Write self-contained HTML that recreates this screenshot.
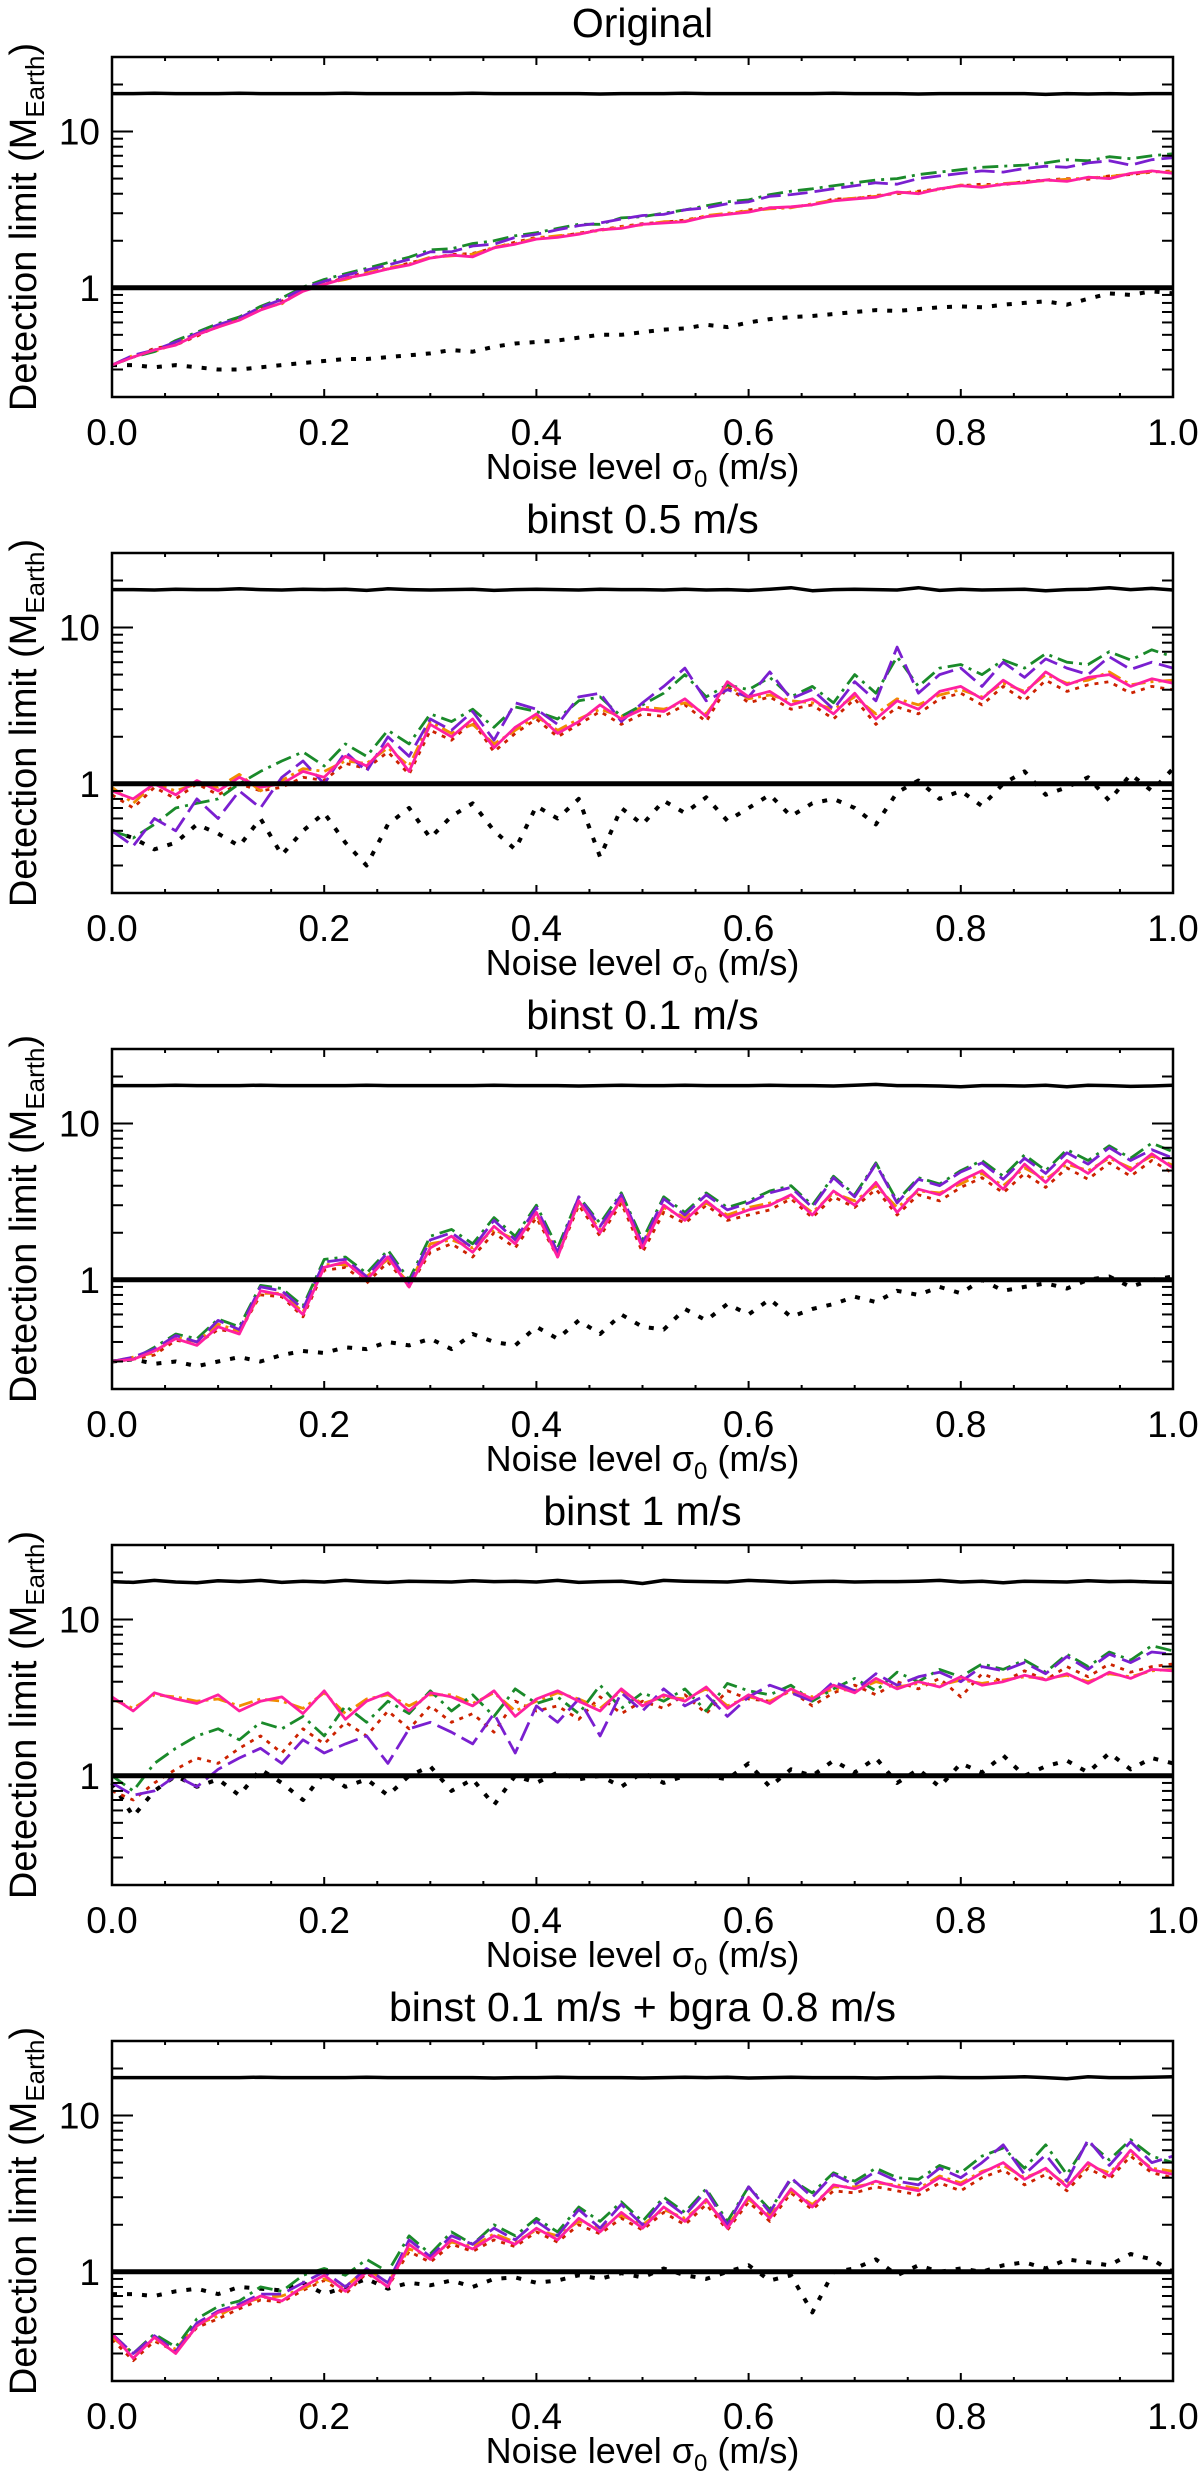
<!DOCTYPE html>
<html><head><meta charset="utf-8"><style>
html,body{margin:0;padding:0;background:#fff;}
svg{display:block;}
text{font-family:"Liberation Sans",Arial,sans-serif;fill:#000;}
</style></head><body>
<svg id="fig" width="1200" height="2481" viewBox="0 0 1200 2481" xmlns="http://www.w3.org/2000/svg"></svg>
<script>
const noise = [0,0.02,0.04,0.06,0.08,0.1,0.12,0.14,0.16,0.18,0.2,0.22,0.24,0.26,0.28,0.3,0.32,0.34,0.36,0.38,0.4,0.42,0.44,0.46,0.48,0.5,0.52,0.54,0.56,0.58,0.6,0.62,0.64,0.66,0.68,0.7,0.72,0.74,0.76,0.78,0.8,0.82,0.84,0.86,0.88,0.9,0.92,0.94,0.96,0.98,1.0];
const xTicks = [0,0.2,0.4,0.6,0.8,1.0];
const xTickLabels = ["0.0","0.2","0.4","0.6","0.8","1.0"];
const yTicks = [1,10];
const yTickLabels = ["1","10"];
const titles = ["Original","binst 0.5 m/s","binst 0.1 m/s","binst 1 m/s","binst 0.1 m/s + bgra 0.8 m/s"];
const earthLine = [1,1,1,1,1];

// Panel 1
const p1Top = [17.5,17.5,17.6,17.5,17.5,17.5,17.6,17.5,17.5,17.5,17.5,17.6,17.5,17.5,17.5,17.5,17.5,17.6,17.5,17.5,17.5,17.5,17.5,17.4,17.5,17.5,17.5,17.6,17.5,17.5,17.5,17.5,17.5,17.5,17.6,17.5,17.5,17.5,17.4,17.5,17.5,17.5,17.5,17.5,17.3,17.5,17.4,17.5,17.4,17.5,17.5];
const p1Magenta = [0.32,0.36,0.40,0.43,0.50,0.56,0.62,0.72,0.80,0.95,1.05,1.15,1.22,1.32,1.40,1.55,1.62,1.58,1.80,1.90,2.05,2.10,2.20,2.35,2.40,2.55,2.60,2.65,2.85,2.95,3.05,3.25,3.30,3.40,3.60,3.70,3.80,4.10,4.00,4.30,4.50,4.40,4.60,4.70,4.90,4.80,5.10,5.00,5.40,5.60,5.40];
const p1Orange = [0.32,0.37,0.39,0.44,0.51,0.56,0.63,0.74,0.79,0.97,1.07,1.13,1.24,1.34,1.42,1.57,1.60,1.64,1.82,1.92,2.08,2.15,2.22,2.33,2.45,2.53,2.65,2.67,2.90,3.00,3.10,3.20,3.25,3.45,3.65,3.75,3.85,4.05,4.10,4.25,4.55,4.45,4.65,4.75,4.85,4.95,5.05,5.15,5.35,5.55,5.50];
const p1Red = [0.32,0.36,0.41,0.43,0.49,0.57,0.64,0.73,0.82,0.96,1.05,1.17,1.26,1.32,1.44,1.55,1.63,1.66,1.80,1.96,2.10,2.12,2.24,2.35,2.47,2.57,2.63,2.71,2.87,2.95,3.15,3.25,3.28,3.40,3.70,3.72,3.90,4.00,4.15,4.30,4.50,4.60,4.55,4.80,4.90,5.00,4.95,5.20,5.30,5.50,5.60];
const p1Purple = [0.32,0.37,0.40,0.45,0.51,0.58,0.64,0.75,0.84,0.99,1.10,1.20,1.30,1.40,1.52,1.70,1.70,1.85,1.90,2.10,2.20,2.35,2.50,2.60,2.75,2.90,2.95,3.15,3.25,3.45,3.55,3.85,3.95,4.10,4.30,4.50,4.70,4.60,5.00,5.20,5.40,5.60,5.50,5.80,6.00,5.90,6.30,6.50,6.10,6.60,6.80];
const p1Green = [0.32,0.36,0.39,0.46,0.52,0.59,0.65,0.76,0.86,1.01,1.13,1.23,1.33,1.45,1.57,1.75,1.78,1.92,2.00,2.15,2.25,2.40,2.55,2.55,2.80,2.85,3.00,3.15,3.35,3.55,3.65,3.95,4.15,4.30,4.50,4.70,4.90,5.00,5.30,5.50,5.70,5.90,6.00,6.10,6.30,6.60,6.50,6.90,6.70,7.00,7.20];
const p1Dots = [0.32,0.32,0.31,0.32,0.31,0.30,0.30,0.31,0.32,0.33,0.34,0.35,0.35,0.36,0.37,0.38,0.40,0.39,0.42,0.44,0.45,0.46,0.48,0.50,0.50,0.52,0.54,0.55,0.58,0.56,0.60,0.63,0.65,0.66,0.68,0.70,0.72,0.71,0.73,0.75,0.76,0.75,0.78,0.80,0.82,0.78,0.85,0.92,0.90,0.95,0.92];

// Panel 2
const p2Top = [17.5,17.5,17.4,17.6,17.5,17.5,17.7,17.5,17.4,17.6,17.5,17.6,17.3,17.7,17.5,17.4,17.5,17.6,17.3,17.5,17.6,17.5,17.4,17.6,17.5,17.5,17.4,17.6,17.4,17.5,17.3,17.6,18.0,17.2,17.5,17.6,17.5,17.4,18.0,17.3,17.6,17.4,17.5,17.6,17.2,17.5,17.6,18.0,17.5,17.8,17.4];
const p2Magenta = [0.9,0.8,1.0,0.85,1.05,0.9,1.1,0.95,1.0,1.2,1.1,1.5,1.3,1.8,1.2,2.4,2.0,2.6,1.7,2.3,2.8,2.1,2.5,3.2,2.6,3.0,2.9,3.5,2.7,4.5,3.6,3.9,3.2,3.5,2.8,3.8,2.6,3.4,3.0,3.9,4.2,3.5,4.6,3.8,5.2,4.3,4.8,5.0,4.2,4.7,4.4];
const p2Orange = [0.95,0.75,1.0,0.9,1.0,0.95,1.15,0.9,1.05,1.25,1.2,1.4,1.35,1.7,1.3,2.5,2.1,2.4,1.8,2.2,2.7,2.2,2.6,3.0,2.7,3.1,3.0,3.3,2.8,4.3,3.5,3.7,3.4,3.3,3.0,3.6,2.8,3.5,3.2,3.7,4.0,3.6,4.4,3.9,5.0,4.4,4.6,5.2,4.3,4.5,4.6];
const p2Red = [0.85,0.7,0.95,0.8,1.0,0.85,1.0,0.9,0.95,1.1,1.05,1.35,1.25,1.6,1.15,2.2,1.9,2.5,1.6,2.1,2.6,2.0,2.4,2.9,2.4,2.8,2.7,3.2,2.5,4.2,3.3,3.6,3.0,3.2,2.6,3.5,2.4,3.1,2.8,3.5,3.8,3.2,4.2,3.4,4.6,3.9,4.3,4.5,3.8,4.2,4.0];
const p2Purple = [0.5,0.4,0.6,0.5,0.8,0.6,0.9,0.7,1.1,1.4,1.0,1.6,1.2,2.0,1.5,2.6,2.2,2.9,1.9,3.3,3.0,2.4,3.6,3.8,2.5,3.3,4.2,5.5,3.4,4.0,3.6,5.2,3.5,4.0,3.0,4.5,3.4,7.5,3.8,5.0,5.5,4.2,6.0,4.8,6.3,5.5,5.0,6.5,5.4,6.0,5.5];
const p2Green = [0.5,0.45,0.55,0.7,0.75,0.8,1.0,1.2,1.4,1.6,1.3,1.8,1.5,2.2,1.8,2.8,2.5,3.0,2.3,3.1,2.9,2.6,3.4,3.6,2.7,3.2,3.8,5.0,3.6,4.3,4.0,4.8,3.6,4.2,3.3,5.0,3.8,6.5,4.2,5.5,5.8,5.0,6.2,5.5,6.8,6.0,5.8,7.0,6.2,7.2,6.5];
const p2Dots = [0.5,0.45,0.38,0.42,0.55,0.48,0.40,0.6,0.35,0.5,0.65,0.42,0.3,0.55,0.7,0.45,0.62,0.75,0.5,0.38,0.72,0.6,0.8,0.34,0.7,0.55,0.78,0.65,0.82,0.58,0.7,0.85,0.62,0.75,0.8,0.7,0.55,0.88,1.05,0.8,0.9,0.72,1.0,1.2,0.85,0.95,1.1,0.78,1.15,0.9,1.25];

// Panel 3
const p3Top = [17.5,17.5,17.5,17.6,17.5,17.5,17.5,17.6,17.5,17.5,17.5,17.5,17.6,17.5,17.5,17.5,17.5,17.5,17.6,17.5,17.5,17.5,17.4,17.5,17.6,17.5,17.5,17.6,17.5,17.5,17.5,17.6,17.5,17.5,17.4,17.6,17.8,17.5,17.5,17.4,17.2,17.5,17.5,17.4,17.6,17.2,17.6,17.5,17.3,17.4,17.6];
const p3Magenta = [0.3,0.31,0.35,0.42,0.38,0.5,0.45,0.85,0.8,0.6,1.2,1.3,1.0,1.4,0.9,1.6,1.9,1.5,2.2,1.7,2.7,1.4,3.2,2.0,3.3,1.6,3.0,2.4,3.2,2.5,2.8,3.0,3.5,2.6,3.7,3.0,4.2,2.7,3.8,3.5,4.3,5.0,3.8,5.5,4.2,5.8,4.8,6.2,5.0,6.4,5.2];
const p3Orange = [0.3,0.32,0.34,0.43,0.40,0.52,0.47,0.82,0.82,0.62,1.25,1.25,1.05,1.35,0.95,1.7,1.8,1.6,2.1,1.8,2.6,1.5,3.1,2.1,3.2,1.7,2.9,2.5,3.1,2.6,2.9,3.1,3.4,2.7,3.6,3.2,4.0,2.9,3.7,3.6,4.1,4.8,4.0,5.2,4.4,5.5,5.0,6.0,5.2,6.2,5.4];
const p3Red = [0.3,0.31,0.33,0.41,0.39,0.48,0.46,0.80,0.78,0.58,1.15,1.2,0.95,1.3,0.9,1.5,1.7,1.4,2.0,1.6,2.5,1.4,3.0,1.9,3.1,1.5,2.7,2.3,3.0,2.4,2.6,2.8,3.3,2.5,3.4,2.9,3.8,2.6,3.5,3.2,3.9,4.5,3.6,4.8,3.9,5.2,4.4,5.6,4.6,5.8,4.8];
const p3Purple = [0.3,0.32,0.36,0.44,0.40,0.55,0.48,0.9,0.85,0.65,1.3,1.35,1.05,1.5,0.95,1.8,2.0,1.6,2.4,1.8,2.9,1.5,3.4,2.2,3.5,1.7,3.3,2.6,3.5,2.8,3.1,3.6,3.9,2.9,4.5,3.4,5.5,3.1,4.4,4.0,4.9,5.6,4.4,6.0,4.8,6.5,5.5,7.0,5.8,6.8,6.0];
const p3Green = [0.3,0.31,0.37,0.45,0.42,0.56,0.50,0.92,0.88,0.68,1.35,1.4,1.1,1.55,1.0,1.9,2.1,1.7,2.5,1.9,3.0,1.6,3.4,2.3,3.6,1.8,3.4,2.7,3.6,2.9,3.2,3.7,4.0,3.0,4.6,3.5,5.6,3.2,4.5,4.1,5.0,5.8,4.6,6.3,5.0,6.8,5.8,7.2,6.0,7.5,6.6];
const p3Dots = [0.3,0.31,0.29,0.3,0.28,0.3,0.32,0.3,0.33,0.35,0.34,0.37,0.36,0.4,0.38,0.42,0.36,0.45,0.4,0.38,0.5,0.42,0.55,0.45,0.6,0.5,0.48,0.65,0.55,0.7,0.6,0.75,0.58,0.65,0.7,0.78,0.72,0.85,0.8,0.9,0.82,1.0,0.85,0.9,0.95,0.88,1.0,1.05,0.9,1.0,1.05];

// Panel 4
const p4Top = [17.5,17.3,17.8,17.4,17.2,17.7,17.5,17.8,17.3,17.6,17.4,17.8,17.5,17.3,17.6,17.5,17.4,17.7,17.5,17.6,17.4,17.8,17.3,17.5,17.6,17.0,17.8,17.6,17.5,17.4,17.8,17.6,17.3,17.5,17.6,17.4,17.5,17.5,17.6,17.8,17.4,17.6,17.2,17.6,17.5,17.4,17.7,17.5,17.6,17.4,17.3];
const p4Magenta = [3.2,2.6,3.4,3.1,2.9,3.3,2.6,3.0,3.2,2.5,3.5,2.3,3.0,3.4,2.6,3.4,3.2,2.8,3.5,2.4,3.1,3.5,3.0,2.6,3.6,2.8,3.3,3.0,3.7,2.7,3.3,2.9,3.6,3.1,3.8,3.4,4.2,3.6,4.0,3.7,4.3,3.8,4.0,4.4,4.1,4.5,3.9,4.6,4.2,4.8,4.7];
const p4Orange = [3.1,2.7,3.3,3.2,3.0,3.1,2.8,3.1,3.0,2.7,3.4,2.5,3.1,3.3,2.8,3.3,3.3,2.9,3.4,2.6,3.0,3.4,3.1,2.7,3.5,2.9,3.2,3.1,3.6,2.8,3.2,3.0,3.5,3.2,3.6,3.5,4.0,3.7,3.9,3.8,4.1,3.9,4.1,4.3,4.2,4.4,4.0,4.5,4.3,4.7,4.8];
const p4Red = [0.8,0.7,0.9,1.1,1.3,1.2,1.5,1.8,1.4,2.0,1.6,2.2,1.8,2.6,2.0,2.8,2.2,2.5,1.9,3.0,2.6,2.8,2.3,3.2,2.5,3.0,2.7,3.3,2.5,3.5,3.1,3.0,3.5,2.8,3.4,3.8,3.3,4.0,3.6,4.2,3.2,4.5,4.0,4.7,4.1,5.0,4.3,5.2,4.6,5.0,5.2];
const p4Purple = [0.9,0.75,0.8,1.0,0.85,1.1,1.3,1.5,1.2,1.7,1.4,1.6,1.8,1.2,2.0,2.2,1.9,1.6,2.5,1.4,2.8,2.2,3.1,1.8,3.4,2.6,3.6,2.8,3.3,2.4,3.2,3.8,3.4,3.0,4.0,3.5,4.5,3.8,4.3,4.6,4.0,5.0,4.7,5.3,4.5,5.8,4.8,6.0,5.3,6.2,6.0];
const p4Green = [1.0,0.8,1.2,1.5,1.8,2.0,1.7,2.2,2.0,2.4,1.8,2.8,2.2,3.0,2.5,3.5,2.6,3.3,2.4,3.6,2.9,3.2,2.5,3.8,2.7,3.4,3.0,3.6,2.6,3.9,3.5,3.3,3.8,3.0,3.6,4.2,3.5,4.6,4.0,4.8,4.3,5.2,4.8,5.5,4.6,6.0,5.0,6.2,5.5,6.8,6.3];
const p4Dots = [0.9,0.55,0.8,1.0,0.85,0.95,0.75,1.1,0.9,0.7,1.05,0.85,0.95,0.75,1.0,1.15,0.8,0.95,0.65,1.0,0.9,1.05,0.95,1.0,0.85,1.05,0.9,1.0,1.0,0.95,1.2,0.85,1.1,1.0,1.25,1.05,1.3,0.9,1.1,0.85,1.2,1.05,1.35,1.0,1.15,1.25,1.05,1.4,1.1,1.3,1.2];

// Panel 5
const p5Top = [17.5,17.5,17.5,17.5,17.5,17.5,17.5,17.6,17.5,17.5,17.5,17.5,17.6,17.5,17.5,17.5,17.5,17.5,17.4,17.5,17.5,17.6,17.5,17.5,17.5,17.4,17.5,17.6,17.5,17.6,17.4,17.5,17.6,17.5,17.5,17.5,17.4,17.5,17.5,17.6,17.5,17.5,17.6,17.7,17.5,17.2,17.7,17.5,17.5,17.6,17.7];
const p5Magenta = [0.4,0.28,0.38,0.3,0.45,0.55,0.6,0.7,0.65,0.8,0.95,0.75,1.0,0.8,1.5,1.2,1.6,1.4,1.7,1.5,1.9,1.6,2.2,1.8,2.4,1.9,2.6,2.1,2.9,1.9,3.0,2.2,3.4,2.6,3.6,3.4,3.8,3.5,3.3,4.0,3.6,4.3,5.0,3.9,4.6,3.5,5.0,4.1,6.0,4.5,4.2];
const p5Orange = [0.38,0.3,0.37,0.32,0.46,0.52,0.62,0.68,0.7,0.78,0.9,0.8,1.05,0.85,1.4,1.25,1.55,1.45,1.75,1.55,1.85,1.7,2.1,1.9,2.3,2.0,2.5,2.2,2.8,2.0,2.9,2.3,3.3,2.7,3.5,3.5,3.7,3.6,3.4,4.1,3.7,4.4,4.8,4.0,4.5,3.6,4.8,4.3,5.8,4.6,4.4];
const p5Red = [0.37,0.27,0.36,0.31,0.44,0.5,0.58,0.66,0.64,0.76,0.88,0.72,0.98,0.8,1.35,1.15,1.5,1.35,1.6,1.45,1.8,1.55,2.0,1.75,2.2,1.85,2.4,2.0,2.7,1.85,2.8,2.1,3.2,2.5,3.3,3.2,3.5,3.3,3.1,3.7,3.3,4.0,4.5,3.6,4.2,3.3,4.6,3.9,5.5,4.3,4.0];
const p5Purple = [0.4,0.3,0.39,0.31,0.47,0.56,0.62,0.72,0.72,0.85,1.0,0.8,1.05,0.85,1.6,1.25,1.7,1.5,1.9,1.6,2.1,1.7,2.5,1.9,2.7,2.0,2.9,2.3,3.3,2.0,3.5,2.4,4.0,3.0,4.2,3.6,4.4,3.8,3.6,4.6,4.0,5.0,6.5,4.2,5.6,3.8,7.0,4.8,6.8,5.0,5.5];
const p5Green = [0.4,0.3,0.4,0.33,0.5,0.6,0.65,0.8,0.75,0.95,1.05,0.95,1.2,1.0,1.7,1.3,1.8,1.5,2.0,1.7,2.2,1.8,2.6,2.1,2.8,2.1,3.0,2.4,3.4,2.1,3.5,2.5,3.9,3.2,4.3,3.8,4.6,4.0,3.9,4.8,4.3,5.5,6.2,4.6,6.5,4.2,6.8,5.2,7.0,5.5,5.0];
const p5Dots = [0.72,0.72,0.7,0.75,0.78,0.72,0.8,0.78,0.76,0.85,0.72,0.8,0.9,0.78,0.85,0.82,0.88,0.8,0.9,0.92,0.85,0.88,0.95,0.9,0.98,0.92,1.05,0.95,0.9,1.0,1.1,0.88,0.95,0.55,1.0,1.05,1.2,0.95,1.1,1.0,1.05,1.0,1.1,1.15,1.05,1.2,1.15,1.1,1.3,1.2,1.0];

const panels = [
  {top:p1Top, mag:p1Magenta, ora:p1Orange, red:p1Red, pur:p1Purple, grn:p1Green, dot:p1Dots},
  {top:p2Top, mag:p2Magenta, ora:p2Orange, red:p2Red, pur:p2Purple, grn:p2Green, dot:p2Dots},
  {top:p3Top, mag:p3Magenta, ora:p3Orange, red:p3Red, pur:p3Purple, grn:p3Green, dot:p3Dots},
  {top:p4Top, mag:p4Magenta, ora:p4Orange, red:p4Red, pur:p4Purple, grn:p4Green, dot:p4Dots},
  {top:p5Top, mag:p5Magenta, ora:p5Orange, red:p5Red, pur:p5Purple, grn:p5Green, dot:p5Dots}
];

const NS = "http://www.w3.org/2000/svg";
const svg = document.getElementById('fig');
const L = 112, R = 1173, H = 340, YMIN = 0.2, YMAX = 30;
function mk(tag, attrs, parent){
  const e = document.createElementNS(NS, tag);
  for (const k in attrs) e.setAttribute(k, attrs[k]);
  parent.appendChild(e);
  return e;
}
function xs(v){ return L + (R - L) * v; }

panels.forEach((p, k) => {
  const T = 57 + 496 * k, B = T + H;
  function ys(v){ return T + H * (Math.log10(YMAX) - Math.log10(v)) / (Math.log10(YMAX) - Math.log10(YMIN)); }
  const g = mk('g', {}, svg);
  
  

  const t = mk('text', {x: (L + R) / 2, y: T - 20, 'font-size': 41, 'text-anchor': 'middle'}, g);
  t.textContent = titles[k];
  
  

  function line(vals, color, width, dash, name){
    let d = '';
    vals.forEach((v, i) => { d += (i ? 'L' : 'M') + xs(noise[i]).toFixed(1) + ',' + ys(v).toFixed(1); });
    const a = {d: d, fill: 'none', stroke: color, 'stroke-width': width, 'stroke-linejoin': 'round'};
    if (dash) a['stroke-dasharray'] = dash;
    const e = mk('path', a, g);
    
    
  }

  line(p.top, '#000', 3.5, null, 'upper-limit-line');
  line(p.dot, '#000', 4, '5,10', 'dotted-black-series');
  line(p.red, '#cc2200', 2.8, '4,6', 'red-series');
  line(p.ora, '#f08c00', 2.8, '14,5,3,5', 'orange-series');
  line(p.grn, '#1a8a2a', 2.8, '16,6,3,6', 'green-series');
  line(p.pur, '#7a1fd0', 2.8, '20,7', 'purple-series');
  line(p.mag, '#ff20a0', 2.8, null, 'magenta-series');

  const one = mk('line', {x1: L, x2: R, y1: ys(earthLine[k]), y2: ys(earthLine[k]), stroke: '#000', 'stroke-width': 5}, g);
  
  

  const frame = mk('rect', {x: L, y: T, width: R - L, height: H, fill: 'none', stroke: '#000', 'stroke-width': 2.5}, g);
  
  

  for (let dec = 0.1; dec <= 10; dec *= 10) {
    for (let m = 1; m <= 9; m++) {
      const v = Math.round(dec * m * 1000) / 1000;
      if (v < YMIN || v > YMAX) continue;
      const y = ys(v); const len = (m === 1) ? 21 : 11;
      mk('line', {x1: L, x2: L + len, y1: y, y2: y, stroke: '#000', 'stroke-width': 2}, g);
      mk('line', {x1: R, x2: R - len, y1: y, y2: y, stroke: '#000', 'stroke-width': 2}, g);
    }
  }
  yTicks.forEach((v, i) => {
    const e = mk('text', {x: 100, y: ys(v) + 13, 'font-size': 37, 'text-anchor': 'end'}, g);
    e.textContent = yTickLabels[i];
    
    
  });
  for (let i = 0; i <= 20; i++) {
    const v = i * 0.05; const x = xs(v); const len = (i % 4 === 0) ? 8 : 4;
    mk('line', {x1: x, x2: x, y1: B, y2: B - len, stroke: '#000', 'stroke-width': 2}, g);
    mk('line', {x1: x, x2: x, y1: T, y2: T + len, stroke: '#000', 'stroke-width': 2}, g);
  }
  xTicks.forEach((v, i) => {
    const e = mk('text', {x: xs(v), y: B + 48, 'font-size': 37, 'text-anchor': 'middle'}, g);
    e.textContent = xTickLabels[i];
    
    
  });
  const xt = mk('text', {x: (L + R) / 2, y: B + 82, 'font-size': 36, 'text-anchor': 'middle'}, g);
  xt.innerHTML = 'Noise level σ<tspan font-size="24" dy="8">0</tspan><tspan dy="-8"> (m/s)</tspan>';
  
  

  const yt = mk('text', {x: 0, y: 0, 'font-size': 38, 'text-anchor': 'middle', transform: 'translate(36,' + (T + H / 2) + ') rotate(-90)'}, g);
  yt.innerHTML = 'Detection limit (M<tspan font-size="26" dy="8">Earth</tspan><tspan dy="-8">)</tspan>';
  
  
});
</script>
</body></html>
